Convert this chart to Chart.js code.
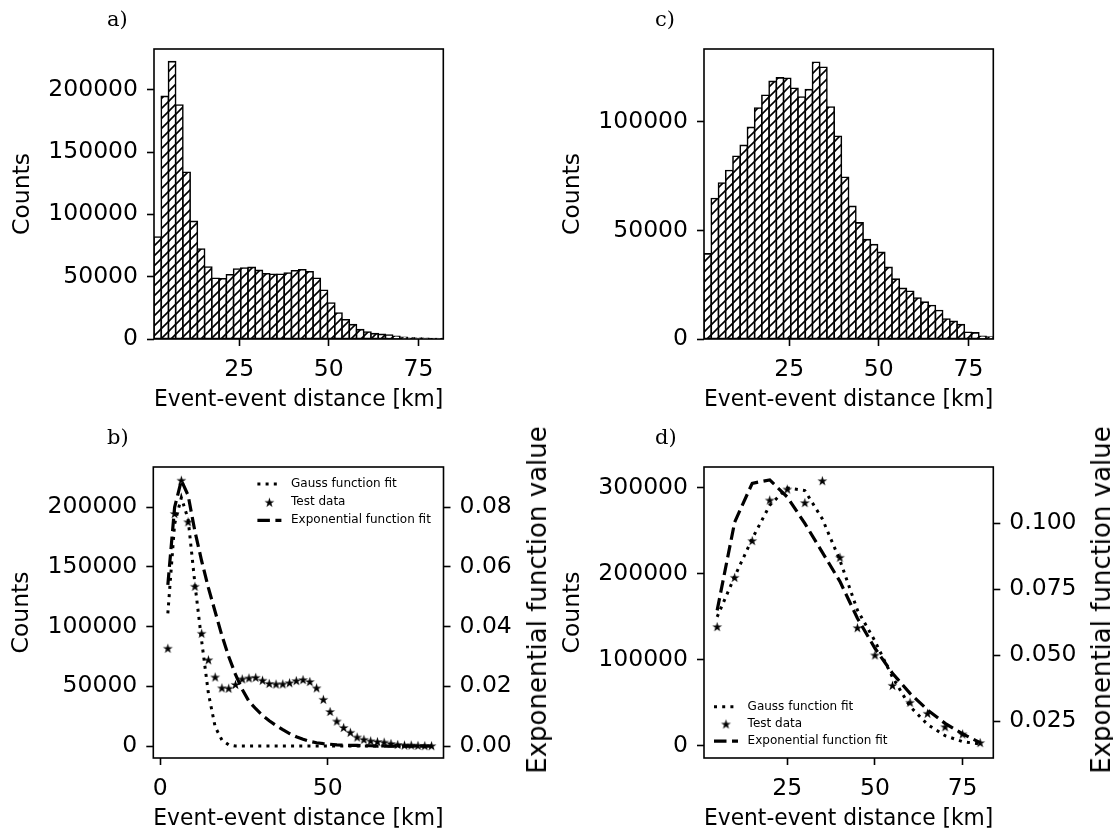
<!DOCTYPE html>
<html>
<head>
<meta charset="utf-8">
<script src="https://cdn.jsdelivr.net/npm/chart.js@4.4.1/dist/chart.umd.min.js"></script>
<style>
  body { margin: 0; background: #fff; }
  #fig { position: relative; width: 1113px; height: 832px; overflow: hidden; font-family: "DejaVu Sans", sans-serif; color: #000; }
  #fig canvas { position: absolute; }
  .tag { position: absolute; font-family: "DejaVu Serif", serif; font-size: 21px; line-height: 1; }
  .rlab { position: absolute; font-size: 26px; line-height: 1; white-space: nowrap; transform: translate(-50%, -50%) rotate(-90deg); }
</style>
</head>
<body>
<div id="fig">
  <canvas id="pa" width="556" height="412" style="left:0;top:0"></canvas>
  <canvas id="pc" width="557" height="412" style="left:556px;top:0"></canvas>
  <canvas id="pb" width="556" height="411" style="left:0;top:420px"></canvas>
  <canvas id="pd" width="557" height="411" style="left:556px;top:420px"></canvas>
  <div class="tag" style="left:107px;top:9px">a)</div>
  <div class="tag" style="left:655px;top:9px">c)</div>
  <div class="tag" style="left:107px;top:427px">b)</div>
  <div class="tag" style="left:655px;top:427px">d)</div>
  <div class="rlab" style="left:537px;top:600px">Exponential function value</div>
  <div class="rlab" style="left:1101px;top:600px">Exponential function value</div>
</div>
<script>
// histogram bins (km), same for a) and c)
const binCenters = [2.26, 4.28, 6.29, 8.31, 10.33, 12.35, 14.37, 16.38, 18.40, 20.42,
    22.44, 24.45, 26.47, 28.49, 30.51, 32.52, 34.54, 36.56, 38.58, 40.59,
    42.61, 44.63, 46.65, 48.66, 50.68, 52.70, 54.72, 56.73, 58.75, 60.77,
    62.79, 64.80, 66.82, 68.84, 70.86, 72.87, 74.89, 76.91, 78.93, 80.94];

// a) counts, also used as "Test data" in b)
const countsA = [81900, 194700, 222600, 187800, 133750, 94400, 72200, 57800, 48700, 48400,
    51600, 56200, 57000, 57500, 55100, 52400, 51900, 52000, 53000, 54800,
    55600, 54000, 48700, 39100, 28900, 20900, 15500, 11500, 7500, 5600,
    4300, 3700, 3200, 2100, 1300, 800, 800, 500, 300, 300];

// c) counts
const countsC = [39200, 64700, 71900, 77600, 84200, 89200, 97500, 106400, 112300, 118700,
    120300, 120100, 115500, 111500, 114900, 127500, 125200, 106900, 93400, 74500,
    61100, 53500, 45800, 43500, 39900, 33000, 27600, 23300, 22000, 18900,
    17000, 15400, 13100, 9200, 8100, 6600, 3100, 2800, 1200, 900];

// b) fits at the bin centres
const gaussB = [111000, 186000, 208000, 190000, 136000, 88000, 44000, 16000, 5000, 1000,
    0, 0, 0, 0, 0, 0, 0, 0, 0, 0,
    0, 0, 0, 0, 0, 0, 0, 0, 0, 0,
    0, 0, 0, 0, 0, 0, 0, 0, 0, 0];
const expB = [0.054, 0.080, 0.089, 0.084, 0.072, 0.062, 0.053, 0.045, 0.037, 0.030,
    0.024, 0.019, 0.015, 0.0125, 0.0103, 0.0085, 0.0069, 0.0055, 0.0042, 0.0031,
    0.0023, 0.0016, 0.0011, 0.0008, 0.0006, 0.0004, 0.0003, 0.0002, 0.0002, 0.0001,
    0.0001, 0, 0, 0, 0, 0, 0, 0, 0, 0];

// d) test data every 5 km
const distD = [5, 10, 15, 20, 25, 30, 35, 40, 45, 50, 55, 60, 65, 70, 75, 80];
const testD = [138800, 196100, 238800, 286000, 298800, 283000, 308500, 219400,
    137600, 105800, 70500, 50800, 38000, 22400, 14000, 3900];
const gaussD = [150000, 197000, 241000, 280000, 300000, 297000, 264000, 216000,
    158000, 122000, 80000, 46000, 25000, 12000, 5000, 2300];
const expD = [0.067, 0.1005, 0.1152, 0.1165, 0.110, 0.100, 0.089, 0.078,
    0.064, 0.0526, 0.0431, 0.0355, 0.0292, 0.0241, 0.0201, 0.0168];

// tick values
const xTicksHist = [25, 50, 75];
const xTicksB = [0, 50];
const xTicksD = [25, 50, 75];
const yTicksA = [0, 50000, 100000, 150000, 200000];
const yTicksC = [0, 50000, 100000];
const yTicksB = [0, 50000, 100000, 150000, 200000];
const rTicksB = [0, 0.02, 0.04, 0.06, 0.08];
const yTicksD = [0, 100000, 200000, 300000];
const rTicksD = [0.025, 0.05, 0.075, 0.1];

const xTitle = "Event-event distance [km]";
const yTitle = "Counts";
const legendLabels = ["Gauss function fit", "Test data", "Exponential function fit"];

Chart.defaults.font.family = '"DejaVu Sans", sans-serif';
Chart.defaults.font.size = 23.5;
Chart.defaults.color = "#000";
Chart.defaults.animation = false;

function pts(xs, ys) {
    return xs.map((x, i) => ({ x: x, y: ys[i] }));
}

// "//" hatch like matplotlib
function hatch(ctx, s) {
    const c = document.createElement("canvas");
    c.width = s; c.height = s;
    const g = c.getContext("2d");
    g.fillStyle = "#fff";
    g.fillRect(0, 0, s, s);
    g.strokeStyle = "#000";
    g.lineWidth = 1.6;
    g.beginPath();
    g.moveTo(-2, s + 2); g.lineTo(s + 2, -2);
    g.moveTo(-2, 2); g.lineTo(2, -2);
    g.moveTo(s - 2, s + 2); g.lineTo(s + 2, s - 2);
    g.stroke();
    return ctx.createPattern(c, "repeat");
}

// filled five point star marker
function star(r) {
    const s = Math.ceil(r * 2 + 2);
    const c = document.createElement("canvas");
    c.width = s; c.height = s;
    const g = c.getContext("2d");
    g.translate(s / 2, s / 2 + 0.5);
    g.beginPath();
    for (let i = 0; i < 10; i++) {
        const rr = i % 2 ? r * 0.382 : r;
        const a = -Math.PI / 2 + i * Math.PI / 5;
        g.lineTo(rr * Math.cos(a), rr * Math.sin(a));
    }
    g.closePath();
    g.fillStyle = "#000";
    g.fill();
    return c;
}
const starImg = star(5.2);

const framePlugin = {
    id: "frame",
    afterDatasetsDraw(chart) {
        const { ctx, chartArea: a } = chart;
        ctx.save();
        ctx.strokeStyle = "#000";
        ctx.lineWidth = 1.6;
        ctx.strokeRect(a.left, a.top, a.right - a.left, a.bottom - a.top);
        ctx.restore();
    }
};

// matplotlib-style legend inside the axes, no frame
const innerLegend = {
    id: "innerLegend",
    afterDatasetsDraw(chart, args, o) {
        if (!o || !o.rows) return;
        const ctx = chart.ctx;
        ctx.save();
        ctx.font = '12px "DejaVu Sans"';
        ctx.fillStyle = "#000";
        ctx.textBaseline = "middle";
        chart.data.datasets.forEach((ds, i) => {
            const y = o.rows[i];
            if (ds.showLine === false) {
                ctx.drawImage(starImg, o.x + 12 - starImg.width / 2, y - starImg.height / 2);
            } else {
                ctx.strokeStyle = "#000";
                ctx.lineWidth = ds.borderWidth;
                ctx.setLineDash(ds.borderDash);
                ctx.beginPath();
                ctx.moveTo(o.x, y);
                ctx.lineTo(o.x + 24, y);
                ctx.stroke();
                ctx.setLineDash([]);
            }
            ctx.fillText(ds.label, o.x + 33.6, y);
        });
        ctx.restore();
    }
};

function scale(opt) {
    const s = {
        type: "linear",
        position: opt.position || "left",
        min: opt.min,
        max: opt.max,
        offset: false,
        border: { display: false },
        grid: {
            offset: false,
            drawOnChartArea: false,
            drawTicks: true,
            tickLength: 7,
            tickColor: "#000",
            tickWidth: 1.6,
            color: "#000"
        },
        ticks: {
            autoSkip: false,
            maxRotation: 0,
            padding: opt.pad || 9,
            color: "#000",
            callback: opt.fmt || (v => String(v))
        },
        afterBuildTicks: s => { s.ticks = opt.ticks.map(v => ({ value: v })); },
        afterFit: opt.fit
    };
    if (opt.title) {
        s.title = {
            display: true,
            text: opt.title,
            color: "#000",
            font: { size: 23.5, lineHeight: 1 },
            padding: opt.titlePad || { top: 0, bottom: 0 }
        };
    }
    return s;
}

function histogram(id, counts, yTicks, ymax, yWidth, padRight, yTitlePad) {
    const el = document.getElementById(id);
    const ctx = el.getContext("2d");
    new Chart(el, {
        type: "bar",
        data: {
            datasets: [{
                data: pts(binCenters, counts),
                backgroundColor: hatch(ctx, 10),
                borderColor: "#000",
                borderWidth: 1.6,
                borderSkipped: false,
                inflateAmount: 0.8,
                barPercentage: 1,
                categoryPercentage: 1
            }]
        },
        options: {
            responsive: false,
            layout: { padding: { top: 49, right: padRight, bottom: 0, left: 0 } },
            plugins: { legend: { display: false }, tooltip: { enabled: false } },
            scales: {
                x: scale({ position: "bottom", min: 1.25, max: 81.95, ticks: xTicksHist, pad: 10,
                    title: xTitle, fit: s => { s.height = 73; } }),
                y: scale({ min: 0, max: ymax, ticks: yTicks, title: yTitle,
                    titlePad: { top: yTitlePad, bottom: 0 }, fit: s => { s.width = yWidth; } })
            }
        },
        plugins: [framePlugin]
    });
}

histogram("pa", countsA, yTicksA, 232700, 154, 112.7, 11);
histogram("pc", countsC, yTicksC, 133600, 148, 119.7, 5);

function fitChart(id, xs, test, gauss, expo, o) {
    new Chart(document.getElementById(id), {
        type: "line",
        data: {
            datasets: [
                {
                    label: legendLabels[0],
                    data: pts(xs, gauss),
                    yAxisID: "y",
                    borderColor: "#000",
                    borderWidth: 3,
                    borderDash: [3, 5.2],
                    pointRadius: 0,
                    tension: 0,
                    order: 2
                },
                {
                    label: legendLabels[1],
                    data: pts(xs, test),
                    yAxisID: "y",
                    showLine: false,
                    pointStyle: starImg,
                    pointRadius: 4,
                    order: 1
                },
                {
                    label: legendLabels[2],
                    data: pts(xs, expo),
                    yAxisID: "y1",
                    borderColor: "#000",
                    borderWidth: 3.2,
                    borderDash: [12.5, 5.5],
                    pointRadius: 0,
                    tension: 0,
                    order: 0
                }
            ]
        },
        options: {
            responsive: false,
            layout: { padding: { top: 47, right: 0, bottom: 0, left: 0 } },
            plugins: {
                legend: { display: false },
                tooltip: { enabled: false },
                innerLegend: o.legend
            },
            scales: {
                x: scale({ position: "bottom", min: o.xmin, max: o.xmax, ticks: o.xticks, pad: 10,
                    title: xTitle, fit: s => { s.height = 73; } }),
                y: scale({ min: o.ymin, max: o.ymax, ticks: o.yticks, title: yTitle,
                    titlePad: { top: o.yTitlePad, bottom: 0 }, fit: s => { s.width = o.yWidth; } }),
                y1: scale({ position: "right", min: o.rmin, max: o.rmax, ticks: o.rticks,
                    fmt: o.rfmt, fit: s => { s.width = o.rWidth; } })
            }
        },
        plugins: [framePlugin, innerLegend]
    });
}

fitChart("pb", binCenters, countsA, gaussB, expB, {
    xmin: -2.08, xmax: 84.52, xticks: xTicksB,
    ymin: -10050, ymax: 233670, yticks: yTicksB,
    rmin: -0.004, rmax: 0.0935, rticks: rTicksB, rfmt: v => v.toFixed(2),
    yWidth: 153.3, rWidth: 112.5, yTitlePad: 10,
    legend: { x: 257.4, rows: [64, 82.2, 100.3] }
});

fitChart("pd", distD, testD, gaussD, expD, {
    xmin: 1.25, xmax: 83.75, xticks: xTicksD,
    ymin: -14000, ymax: 324400, yticks: yTicksD,
    rmin: 0.01096, rmax: 0.1214, rticks: rTicksD, rfmt: v => v.toFixed(3),
    yWidth: 148, rWidth: 119.7, yTitlePad: 5,
    legend: { x: 158, rows: [286.7, 304, 321.2] }
});
</script>
</body>
</html>
